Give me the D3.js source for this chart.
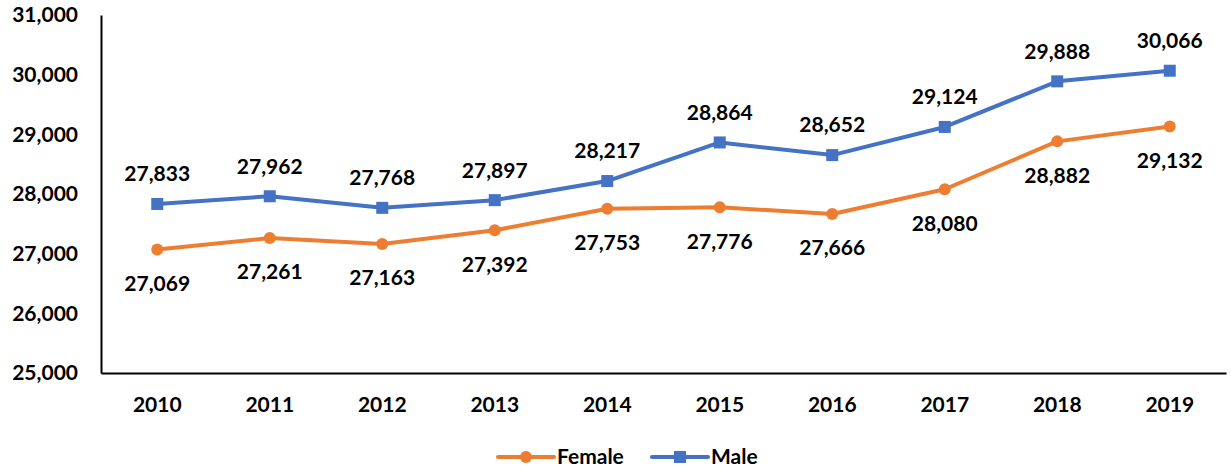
<!DOCTYPE html>
<html>
<head>
<meta charset="utf-8">
<script src="https://cdn.jsdelivr.net/npm/d3@7"></script>
<style>
  body { margin: 0; background: #fff; }
  text { font-family: Lato, "Open Sans", sans-serif; font-weight: bold; }
</style>
</head>
<body>
<div id="chart"></div>
<script>
const years = ["2010","2011","2012","2013","2014","2015","2016","2017","2018","2019"]
const female = [27069, 27261, 27163, 27392, 27753, 27776, 27666, 28080, 28882, 29132]
const male = [27833, 27962, 27768, 27897, 28217, 28864, 28652, 29124, 29888, 30066]
const yTicks = [25000, 26000, 27000, 28000, 29000, 30000, 31000]

const W = 1231, H = 472
const margin = {top: 15, right: 5, bottom: 99, left: 101}
const width = W - margin.left - margin.right
const height = H - margin.top - margin.bottom

const svg = d3.select("#chart").append("svg")
    .attr("width", W).attr("height", H)
  .append("g")
    .attr("transform", `translate(${margin.left},${margin.top})`)

const x = d3.scaleBand().domain(years).range([0, width])
const y = d3.scaleLinear().domain([25000, 31000]).range([height, 0])
const fmt = d3.format(",")
const fs = "21px"

const yAxis = svg.append("g")
    .call(d3.axisLeft(y).tickValues(yTicks).tickFormat(fmt).tickSize(0).tickPadding(23))
yAxis.select(".domain").attr("stroke", "#000").attr("stroke-width", 2)
yAxis.selectAll("text").style("font-size", fs).attr("fill", "#000")

const xAxis = svg.append("g")
    .attr("transform", `translate(0,${height})`)
    .call(d3.axisBottom(x).tickSize(0).tickPadding(24))
xAxis.select(".domain").attr("stroke", "#000").attr("stroke-width", 2)
xAxis.selectAll("text").style("font-size", fs).attr("fill", "#000")

const series = [
  {name: "Female", values: female, color: "#ED7D31", shape: "circle", dy: 34},
  {name: "Male", values: male, color: "#4472C4", shape: "square", dy: -30}
]

const cx = d => x(d) + x.bandwidth() / 2
const line = d3.line().x((d, i) => cx(years[i])).y(d => y(d))

series.forEach(s => {
  svg.append("path")
    .datum(s.values)
    .attr("d", line)
    .attr("fill", "none")
    .attr("stroke", s.color)
    .attr("stroke-width", 4)
    .attr("stroke-linejoin", "round")

  const pts = svg.append("g").selectAll("g").data(s.values).join("g")
    .attr("transform", (d, i) => `translate(${cx(years[i])},${y(d)})`)
  if (s.shape === "circle") {
    pts.append("circle").attr("r", 6).attr("fill", s.color)
  } else {
    pts.append("rect").attr("x", -6).attr("y", -6).attr("width", 12).attr("height", 12).attr("fill", s.color)
  }
  pts.append("text")
    .attr("y", s.dy)
    .attr("dy", "0.35em")
    .attr("text-anchor", "middle")
    .style("font-size", fs)
    .attr("fill", "#000")
    .text(d => fmt(d))
})

// legend
const legend = d3.select("svg").append("g")
const legendPos = [{x0: 498, tx: 557}, {x0: 652, tx: 711}]
series.forEach((s, i) => {
  const g = legend.append("g").attr("transform", `translate(${legendPos[i].x0},457)`)
  g.append("line").attr("x1", 0).attr("x2", 56).attr("stroke", s.color)
    .attr("stroke-width", 4).attr("stroke-linecap", "round")
  if (s.shape === "circle") g.append("circle").attr("cx", 28).attr("r", 6).attr("fill", s.color)
  else g.append("rect").attr("x", 22).attr("y", -6).attr("width", 12).attr("height", 12).attr("fill", s.color)
  legend.append("text").attr("x", legendPos[i].tx).attr("y", 457).attr("dy", "0.35em")
    .style("font-size", fs).attr("fill", "#000").text(s.name)
})
</script>
</body>
</html>
